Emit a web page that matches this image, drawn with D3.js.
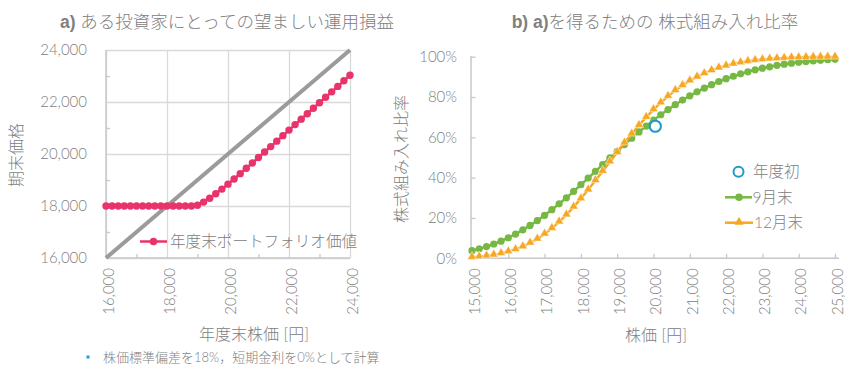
<!DOCTYPE html>
<html>
<head>
<meta charset="utf-8">
<script src="https://cdn.jsdelivr.net/npm/d3@7"></script>
<style>
  body { margin: 0; background: #fff; }
  svg text { font-family: Lato, "Noto Sans CJK JP", sans-serif; fill: #808080; font-weight: 300; }
</style>
</head>
<body>
<div class="svg-mount"></div>
<script>
// ---- data ----
const leftPrice = [16000, 16200, 16400, 16600, 16800, 17000, 17200, 17400, 17600, 17800,
  18000, 18200, 18400, 18600, 18800, 19000, 19200, 19400, 19600, 19800,
  20000, 20200, 20400, 20600, 20800, 21000, 21200, 21400, 21600, 21800,
  22000, 22200, 22400, 22600, 22800, 23000, 23200, 23400, 23600, 23800, 24000];
const portfolioValue = [18000, 18000, 18000, 18000, 18000, 18000, 18000, 18000, 18000, 18000,
  18000, 18000, 18000, 18000, 18000, 18030, 18150, 18300, 18470, 18650,
  18840, 19040, 19245, 19450, 19655, 19865, 20075, 20285, 20495, 20705,
  20920, 21130, 21340, 21550, 21760, 21970, 22180, 22390, 22600, 22815, 23030];
const diagonalX = [16000, 24000];
const diagonalY = [16000, 24000];
const leftTicks = [16000, 18000, 20000, 22000, 24000];
const leftMinor = [17000, 19000, 21000, 23000];

const rightPrice = [15000, 15200, 15400, 15600, 15800, 16000, 16200, 16400, 16600, 16800,
  17000, 17200, 17400, 17600, 17800, 18000, 18200, 18400, 18600, 18800,
  19000, 19200, 19400, 19600, 19800, 20000, 20200, 20400, 20600, 20800,
  21000, 21200, 21400, 21600, 21800, 22000, 22200, 22400, 22600, 22800,
  23000, 23200, 23400, 23600, 23800, 24000, 24200, 24400, 24600, 24800, 25000];
const shareSep = [3.8, 4.7, 5.8, 7.1, 8.5, 10.2, 12.0, 14.1, 16.3, 18.7,
  21.3, 24.1, 27.0, 30.0, 33.2, 36.5, 39.8, 43.1, 46.5, 49.8,
  53.1, 56.4, 59.6, 62.7, 65.6, 68.5, 71.2, 73.8, 76.2, 78.5,
  80.6, 82.6, 84.4, 86.1, 87.7, 89.1, 90.3, 91.5, 92.5, 93.5,
  94.3, 95.0, 95.7, 96.3, 96.8, 97.2, 97.6, 97.9, 98.2, 98.5, 98.7];
const shareDec = [0.5, 0.8, 1.2, 1.7, 2.4, 3.3, 4.4, 5.8, 7.6, 9.6,
  12.1, 14.9, 18.1, 21.6, 25.5, 29.6, 34.0, 38.6, 43.2, 47.9,
  52.6, 57.3, 61.7, 66.0, 70.0, 73.8, 77.2, 80.4, 83.3, 85.8,
  88.1, 90.0, 91.7, 93.2, 94.5, 95.5, 96.4, 97.1, 97.7, 98.2,
  98.6, 98.9, 99.1, 99.3, 99.5, 99.6, 99.7, 99.8, 99.8, 99.9, 99.9];
const startPrice = [20050];
const startShare = [65.5];
const rightXTicks = [15000, 16000, 17000, 18000, 19000, 20000, 21000, 22000, 23000, 24000, 25000];
const rightYTicks = [0, 20, 40, 60, 80, 100];

const pink = "#e8336b";
const green = "#76b843";
const orange = "#f7a823";
const blue = "#1b9bc9";
const gridColor = "#d9d9d9";
const axisColor = "#c8c8c8";

const svg = d3.select(".svg-mount").append("svg")
  .attr("width", 858)
  .attr("height", 379);

const fmt = d3.format(",");

function styleAxis(g) {
  g.select(".domain").remove();
  g.selectAll("line").attr("stroke", gridColor).attr("stroke-width", 1.3);
}

function rotateLabels(g, fontSize) {
  g.selectAll("text")
    .attr("transform", "rotate(-90)")
    .attr("x", -10)
    .attr("y", 2)
    .attr("dy", "0.35em")
    .attr("text-anchor", "end")
    .style("font-size", fontSize + "px");
}

// ---------------- left chart ----------------
function drawLeft() {
  const x = d3.scaleLinear().domain([16000, 24000]).range([106, 350]);
  const y = d3.scaleLinear().domain([16000, 24000]).range([258, 50]);
  const g = svg.append("g");

  // gridlines
  g.append("g")
    .attr("transform", "translate(0,258)")
    .call(d3.axisBottom(x).tickValues(leftTicks).tickSize(-208).tickFormat(""))
    .call(styleAxis);
  g.append("g")
    .attr("transform", "translate(106,0)")
    .call(d3.axisLeft(y).tickValues(leftTicks).tickSize(-244).tickFormat(""))
    .call(styleAxis);

  // minor ticks (inside)
  g.append("g")
    .attr("transform", "translate(0,258)")
    .call(d3.axisBottom(x).tickValues(leftMinor).tickSize(-4).tickFormat(""))
    .call((a) => a.select(".domain").remove())
    .selectAll("line").attr("stroke", axisColor).attr("stroke-width", 1.3);
  g.append("g")
    .attr("transform", "translate(106,0)")
    .call(d3.axisLeft(y).tickValues(leftMinor).tickSize(-4).tickFormat(""))
    .call((a) => a.select(".domain").remove())
    .selectAll("line").attr("stroke", axisColor).attr("stroke-width", 1.3);

  // axis lines
  g.append("line").attr("x1", 106).attr("x2", 106).attr("y1", 50).attr("y2", 258)
    .attr("stroke", axisColor).attr("stroke-width", 1.5);
  g.append("line").attr("x1", 106).attr("x2", 350).attr("y1", 258).attr("y2", 258)
    .attr("stroke", axisColor).attr("stroke-width", 1.5);

  // tick labels
  g.append("g")
    .attr("transform", "translate(0,258)")
    .call(d3.axisBottom(x).tickValues(leftTicks).tickSize(0).tickFormat(fmt))
    .call((a) => a.select(".domain").remove())
    .call((a) => rotateLabels(a, 15));
  g.append("g")
    .attr("transform", "translate(87,0)")
    .call(d3.axisLeft(y).tickValues(leftTicks).tickSize(0).tickPadding(0).tickFormat(fmt))
    .call((a) => a.select(".domain").remove())
    .selectAll("text").style("font-size", "15px");

  // 45 degree line
  const diag = diagonalX.map((d, i) => [d, diagonalY[i]]);
  g.append("path")
    .datum(diag)
    .attr("fill", "none")
    .attr("stroke", "#9b9b9b")
    .attr("stroke-width", 4)
    .attr("d", d3.line().x((d) => x(d[0])).y((d) => y(d[1])));

  // portfolio value
  const pts = leftPrice.map((d, i) => [d, portfolioValue[i]]);
  g.append("path")
    .datum(pts)
    .attr("fill", "none")
    .attr("stroke", pink)
    .attr("stroke-width", 2.5)
    .attr("d", d3.line().x((d) => x(d[0])).y((d) => y(d[1])));
  g.selectAll("circle.pv")
    .data(pts)
    .enter()
    .append("circle")
    .attr("class", "pv")
    .attr("cx", (d) => x(d[0]))
    .attr("cy", (d) => y(d[1]))
    .attr("r", 3.7)
    .attr("fill", pink);

  // legend
  g.append("line").attr("x1", 140).attr("x2", 167).attr("y1", 241.5).attr("y2", 241.5)
    .attr("stroke", pink).attr("stroke-width", 2.5);
  g.append("circle").attr("cx", 153.5).attr("cy", 241.5).attr("r", 3.8).attr("fill", pink);
  g.append("text").attr("x", 170).attr("y", 241.5).attr("dy", "0.35em")
    .style("font-size", "15.6px").text("年度末ポートフォリオ価値");

  // titles
  const t = g.append("text").attr("x", 227).attr("y", 28)
    .attr("text-anchor", "middle").style("font-size", "17.5px");
  t.append("tspan").style("font-weight", "bold").style("font-family", "Liberation Sans, Arial").text("a)");
  t.append("tspan").text(" ある投資家にとっての望ましい運用損益");

  g.append("text")
    .attr("transform", "translate(16,155) rotate(-90)")
    .attr("text-anchor", "middle").attr("dy", "0.35em")
    .style("font-size", "16px").text("期末価格");

  g.append("text").attr("x", 254).attr("y", 340)
    .attr("text-anchor", "middle").style("font-size", "16px").text("年度末株価 [円]");

  // footnote
  g.append("rect").attr("x", 86.5).attr("y", 355.5).attr("width", 3).attr("height", 3).attr("fill", "#1aa0d8");
  g.append("text").attr("x", 103).attr("y", 362)
    .style("font-size", "13px").text("株価標準偏差を18%，短期金利を0%として計算");
}

// ---------------- right chart ----------------
function drawRight() {
  const x = d3.scaleLinear().domain([15000, 25000]).range([472, 835]);
  const y = d3.scaleLinear().domain([0, 100]).range([258.3, 56.7]);
  const g = svg.append("g");

  // ticks (inside) and axis lines
  g.append("g")
    .attr("transform", "translate(0,258.3)")
    .call(d3.axisBottom(x).tickValues(rightXTicks).tickSize(-4.5).tickFormat(""))
    .call((a) => a.select(".domain").remove())
    .selectAll("line").attr("stroke", axisColor).attr("stroke-width", 1.3);
  g.append("g")
    .attr("transform", "translate(471,0)")
    .call(d3.axisLeft(y).tickValues(rightYTicks).tickSize(-4.5).tickFormat(""))
    .call((a) => a.select(".domain").remove())
    .selectAll("line").attr("stroke", axisColor).attr("stroke-width", 1.3);
  g.append("line").attr("x1", 471).attr("x2", 471).attr("y1", 56).attr("y2", 258.3)
    .attr("stroke", axisColor).attr("stroke-width", 1.5);
  g.append("line").attr("x1", 471).attr("x2", 839).attr("y1", 258.3).attr("y2", 258.3)
    .attr("stroke", axisColor).attr("stroke-width", 1.5);

  // tick labels
  g.append("g")
    .attr("transform", "translate(0,258.3)")
    .call(d3.axisBottom(x).tickValues(rightXTicks).tickSize(0).tickFormat(fmt))
    .call((a) => a.select(".domain").remove())
    .call((a) => rotateLabels(a, 15));
  g.append("g")
    .attr("transform", "translate(457,0)")
    .call(d3.axisLeft(y).tickValues(rightYTicks).tickSize(0).tickPadding(0).tickFormat((d) => d + "%"))
    .call((a) => a.select(".domain").remove())
    .selectAll("text").style("font-size", "15px");

  const line = d3.line().x((d) => x(d[0])).y((d) => y(d[1]));

  // 9月末
  const sep = rightPrice.map((d, i) => [d, shareSep[i]]);
  g.append("path").datum(sep).attr("fill", "none").attr("stroke", green)
    .attr("stroke-width", 2.5).attr("d", line);
  g.selectAll("circle.sep").data(sep).enter().append("circle")
    .attr("class", "sep")
    .attr("cx", (d) => x(d[0])).attr("cy", (d) => y(d[1]))
    .attr("r", 3.6).attr("fill", green);

  // 12月末
  const dec = rightPrice.map((d, i) => [d, shareDec[i]]);
  const tri = d3.symbol(d3.symbolTriangle).size(36);
  g.append("path").datum(dec).attr("fill", "none").attr("stroke", orange)
    .attr("stroke-width", 2.5).attr("d", line);
  g.selectAll("path.dec").data(dec).enter().append("path")
    .attr("class", "dec")
    .attr("transform", (d) => `translate(${x(d[0])},${y(d[1]) - 0.5})`)
    .attr("d", tri)
    .attr("fill", orange)
    .attr("stroke", "#fff")
    .attr("stroke-width", 0.5);

  // 年度初
  g.selectAll("circle.start").data(startPrice).enter().append("circle")
    .attr("class", "start")
    .attr("cx", (d) => x(d)).attr("cy", (d, i) => y(startShare[i]))
    .attr("r", 5.6).attr("fill", "#fff").attr("stroke", blue).attr("stroke-width", 2);

  // legend
  g.append("circle").attr("cx", 738.5).attr("cy", 171.7).attr("r", 5)
    .attr("fill", "#fff").attr("stroke", blue).attr("stroke-width", 2);
  g.append("text").attr("x", 753).attr("y", 171.7).attr("dy", "0.35em")
    .style("font-size", "15.5px").text("年度初");

  g.append("line").attr("x1", 725).attr("x2", 752).attr("y1", 197.3).attr("y2", 197.3)
    .attr("stroke", green).attr("stroke-width", 2.5);
  g.append("circle").attr("cx", 739).attr("cy", 197.3).attr("r", 3.8).attr("fill", green);
  g.append("text").attr("x", 752.5).attr("y", 197.3).attr("dy", "0.35em")
    .style("font-size", "15.5px").text("9月末");

  g.append("line").attr("x1", 725).attr("x2", 753).attr("y1", 222.7).attr("y2", 222.7)
    .attr("stroke", orange).attr("stroke-width", 2.5);
  g.append("path").attr("transform", "translate(739,222)").attr("d", tri).attr("fill", orange);
  g.append("text").attr("x", 754).attr("y", 222.7).attr("dy", "0.35em")
    .style("font-size", "15.5px").text("12月末");

  // titles
  const t = g.append("text").attr("x", 655).attr("y", 28)
    .attr("text-anchor", "middle").style("font-size", "17.5px");
  t.append("tspan").style("font-weight", "bold").style("font-family", "Liberation Sans, Arial").text("b) a)");
  t.append("tspan").text("を得るための 株式組み入れ比率");

  g.append("text")
    .attr("transform", "translate(401,159) rotate(-90)")
    .attr("text-anchor", "middle").attr("dy", "0.35em")
    .style("font-size", "16px").text("株式組み入れ比率");

  g.append("text").attr("x", 656).attr("y", 341)
    .attr("text-anchor", "middle").style("font-size", "16px").text("株価 [円]");
}

drawLeft();
drawRight();
</script>
</body>
</html>
